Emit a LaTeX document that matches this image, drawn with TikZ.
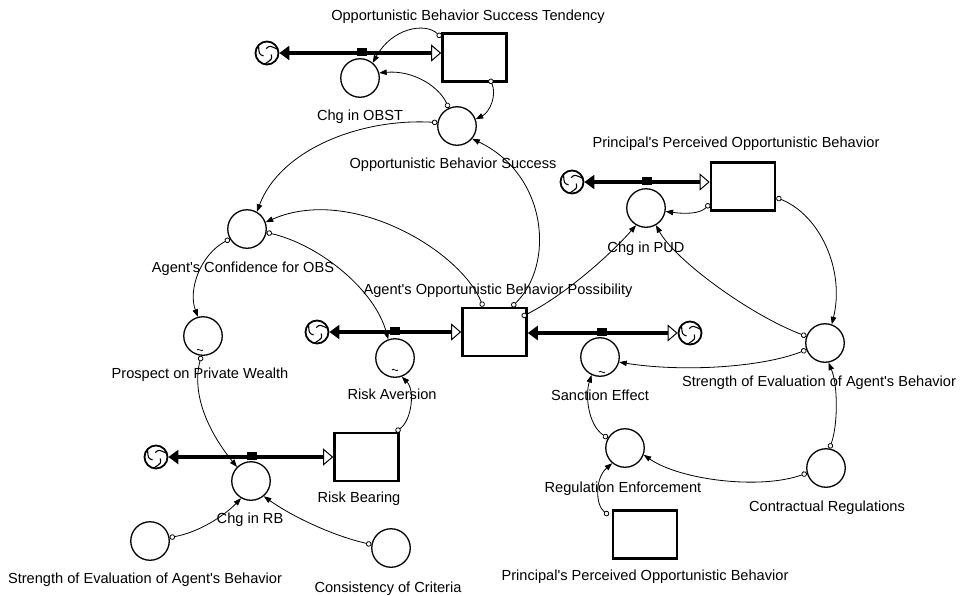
\documentclass[tikz,border=0pt]{standalone}
\usepackage{fontspec}
\setmainfont{Liberation Sans}
\usetikzlibrary{arrows.meta,calc}

\begin{document}
\begin{tikzpicture}[x=1pt,y=-1pt,
  stock/.style={draw, rectangle, line width=2.6pt, minimum width=64pt, minimum height=48pt, inner sep=0pt, fill=white},
  aux/.style={draw, circle, line width=1.3pt, minimum size=38.5pt, inner sep=0pt, fill=white},
  cloudnode/.style={draw, circle, line width=1.8pt, minimum size=23pt, inner sep=0pt, fill=white,
    path picture={
      \foreach \a in {20,140,260}
        \draw[line width=1.1pt] ($(path picture bounding box.center)+(\a:11pt)$)
          .. controls ($(path picture bounding box.center)+(\a+50:8pt)$)
          .. ($(path picture bounding box.center)+(\a+80:4.5pt)$);
    }},
  valve/.style={rectangle, fill=black, minimum width=10pt, minimum height=8pt, inner sep=0pt},
  pipe/.style={line width=4.5pt,
    arrows={Triangle[length=10pt,width=14pt]-Triangle[open,fill=white,length=10pt,width=17pt,line width=1pt]}},
  link/.style={line width=0.8pt,
    arrows={Circle[open,fill=white,length=5.5pt,width=5.5pt,line width=0.8pt]-Triangle[length=7.5pt,width=5.5pt]}},
  lbl/.style={anchor=base, inner sep=0pt, font=\fontsize{14.6}{17}\selectfont},
  tildeline/.style={line width=0.7pt}
]
\fill[white] (0,0) rectangle (965,595);
\useasboundingbox (0,0) rectangle (965,595);

% stocks
\node[stock] (obst)  at (474.5,57.5) {};
\node[stock] (ppob)  at (743,186.5) {};
\node[stock] (aobp)  at (494.5,332) {};
\node[stock] (rb)    at (366.5,457) {};
\node[stock] (ppobb) at (645,534.5) {};

% auxiliaries and rates
\node[aux] (chgobst) at (360,78) {};
\node[aux] (obs)     at (457,126) {};
\node[aux] (chgpud)  at (646,208) {};
\node[aux] (conf)    at (247,229) {};
\node[aux] (prosp)   at (203,336) {};
\node[aux] (ra)      at (395,358) {};
\node[aux] (se)      at (600,357) {};
\node[aux] (sr)      at (825,343) {};
\node[aux] (chgrb)   at (251,481) {};
\node[aux] (sl)      at (150,541) {};
\node[aux] (cons)    at (391,548) {};
\node[aux] (re)      at (625,448) {};
\node[aux] (cr)      at (826,468) {};

% sources and sinks
\node[cloudnode] (c1) at (267,53) {};
\node[cloudnode] (c2) at (572,182) {};
\node[cloudnode] (c3) at (317,332) {};
\node[cloudnode] (c4) at (690,333) {};
\node[cloudnode] (c5) at (156,457) {};

% flow pipes
\draw[pipe] (c1.east) -- (c1.east -| obst.west);
\draw[pipe] (c2.east) -- (c2.east -| ppob.west);
\draw[pipe] (c3.east) -- (c3.east -| aobp.west);
\draw[pipe] (c4.west -| aobp.east) -- (c4.west);
\draw[pipe] (c5.east) -- (c5.east -| rb.west);

% valves
\node[valve] (v1) at (362,52) {};
\node[valve] (v2) at (647,181) {};
\node[valve] (v3) at (395,331) {};
\node[valve] (v4) at (602,332) {};
\node[valve] (v5) at (252,456) {};

% graph-function marks
\draw[tildeline] (197,350) .. controls (198.5,347.5) and (201.5,352.5) .. (203,350);
\draw[tildeline] (392,370) .. controls (393.5,367.5) and (396.5,372.5) .. (398,370);
\draw[tildeline] (599,372) .. controls (600.5,369.5) and (603.5,374.5) .. (605,372);

% information links
\draw[link] ($(obst.north west)+(0,5)$) .. controls (425,22) and (392,28) .. (chgobst.50);
\draw[link] ($(obst.south east)+(-18,-4)$) .. controls (497,95) and (490,112) .. (obs.20);
\draw[link] (obs.115) .. controls (440,88) and (415,70) .. (chgobst.15);
\draw[link] (obs.170) .. controls (360,118) and (280,150) .. (conf.60);
\draw[link] ($(aobp.north east)+(-16,0)$) .. controls (555,265) and (548,175) .. (obs.-40);
\draw[link] ($(aobp.north west)+(22,0)$) .. controls (460,250) and (350,185) .. (conf.20);
\draw[link] (conf.210) .. controls (200,255) and (188,290) .. (prosp.105);
\draw[link] (conf.-10) .. controls (320,245) and (375,290) .. (ra.110);
\draw[link] (prosp.-95) .. controls (190,400) and (215,440) .. (chgrb.135);
\draw[link] ($(rb.north east)+(-4,0)$) .. controls (412,420) and (415,390) .. (ra.-70);
\draw[link] (sl.10) .. controls (200,532) and (225,515) .. (chgrb.-120);
\draw[link] (cons.170) .. controls (330,535) and (290,515) .. (chgrb.-50);
\draw[link] ($(aobp.north east)+(-6,10)$) .. controls (565,295) and (610,255) .. (chgpud.-120);
\draw[link] ($(ppob.south west)+(0,-8)$) .. controls (700,214) and (685,214) .. (chgpud.-10);
\draw[link] ($(ppob.east)+(0,11)$) .. controls (820,215) and (845,270) .. (sr.70);
\draw[link] (sr.160) .. controls (750,315) and (675,260) .. (chgpud.-60);
\draw[link] (sr.-160) .. controls (760,368) and (680,372) .. (se.-15);
\draw[link] (cr.80) .. controls (838,425) and (838,385) .. (sr.-80);
\draw[link] (cr.195) .. controls (760,490) and (680,480) .. (re.-20);
\draw[link] (re.150) .. controls (588,425) and (585,395) .. (se.-115);
\draw[link] ($(ppobb.north west)+(-3,6)$) .. controls (595,505) and (595,478) .. (re.-130);

% labels
\node[lbl] (tobst)  at (468,20)  {Opportunistic Behavior Success Tendency};
\node[lbl] (tchgo)  at (360,120) {Chg in OBST};
\node[lbl] (tobs)   at (453,168) {Opportunistic Behavior Success};
\node[lbl] (tppob)  at (736,147) {Principal\textquotesingle s Perceived Opportunistic Behavior};
\node[lbl] (tchgp)  at (646,252) {Chg in PUD};
\node[lbl] (tconf)  at (243,272) {Agent\textquotesingle s Confidence for OBS};
\node[lbl] (taobp)  at (498,294) {Agent\textquotesingle s Opportunistic Behavior Possibility};
\node[lbl] (tprosp) at (200,378) {Prospect on Private Wealth};
\node[lbl] (tra)    at (392,399) {Risk Aversion};
\node[lbl] (tse)    at (600,400) {Sanction Effect};
\node[lbl] (tsr)    at (819,386) {Strength of Evaluation of Agent\textquotesingle s Behavior};
\node[lbl] (tre)    at (623,492) {Regulation Enforcement};
\node[lbl] (trb)    at (359,502) {Risk Bearing};
\node[lbl] (tchgr)  at (250,523) {Chg in RB};
\node[lbl] (tcr)    at (827,511) {Contractual Regulations};
\node[lbl] (tsl)    at (145,583) {Strength of Evaluation of Agent\textquotesingle s Behavior};
\node[lbl] (tcons)  at (388,592) {Consistency of Criteria};
\node[lbl] (tppobb) at (645,580) {Principal\textquotesingle s Perceived Opportunistic Behavior};
\end{tikzpicture}
\end{document}
